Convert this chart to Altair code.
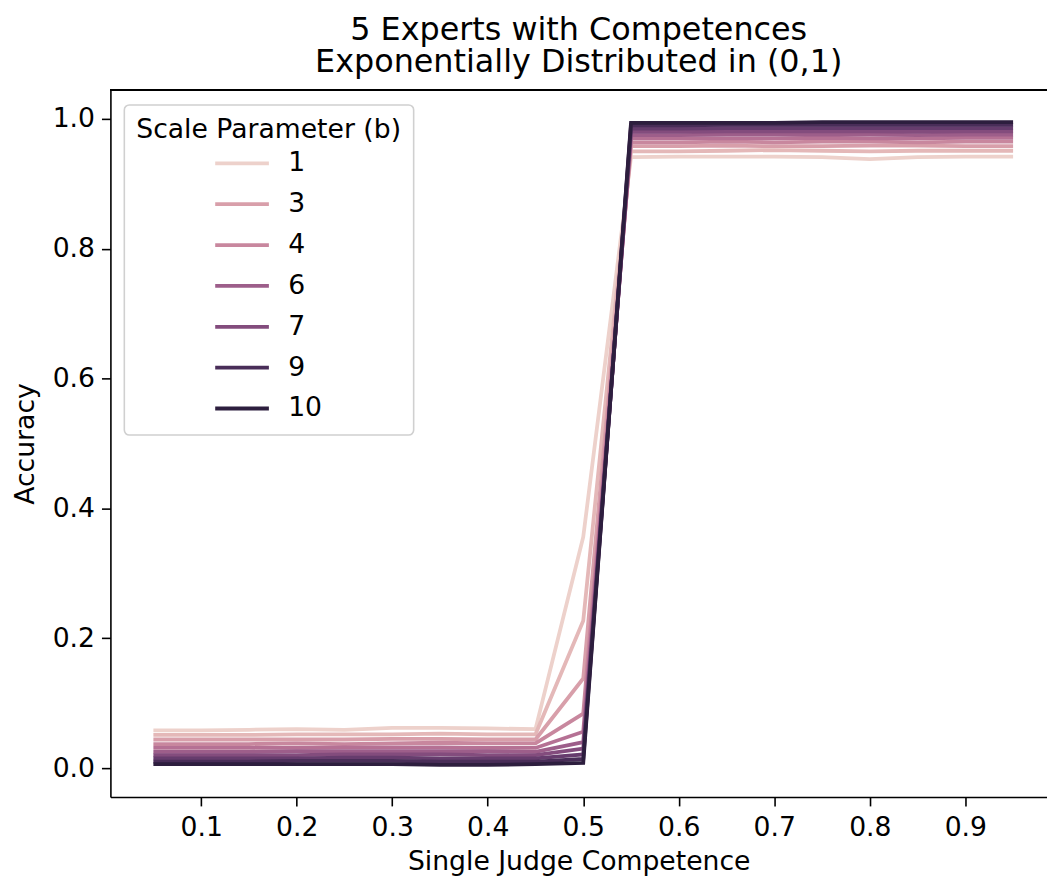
import math
import altair as alt
import pandas as pd

# ---------------- data ----------------
competence = [0.05, 0.10, 0.15, 0.20, 0.25, 0.30, 0.35, 0.40, 0.45, 0.50,
              0.55, 0.60, 0.65, 0.70, 0.75, 0.80, 0.85, 0.90, 0.95]

scale_params = [1, 2, 3, 4, 5, 6, 7, 8, 9, 10]
legend_values = [1, 3, 4, 6, 7, 9, 10]

acc_b1 = [0.058, 0.058, 0.059, 0.060, 0.059, 0.062, 0.062, 0.061, 0.060, 0.356, 0.941, 0.942, 0.942, 0.942, 0.941, 0.938, 0.941, 0.942, 0.942]
acc_b2 = [0.051, 0.051, 0.051, 0.052, 0.052, 0.052, 0.053, 0.052, 0.052, 0.227, 0.950, 0.950, 0.951, 0.952, 0.951, 0.950, 0.951, 0.951, 0.951]
acc_b3 = [0.044, 0.044, 0.044, 0.044, 0.044, 0.045, 0.045, 0.044, 0.044, 0.138, 0.958, 0.958, 0.959, 0.958, 0.958, 0.959, 0.959, 0.958, 0.958]
acc_b4 = [0.037, 0.037, 0.037, 0.038, 0.037, 0.038, 0.039, 0.038, 0.038, 0.084, 0.964, 0.964, 0.965, 0.964, 0.965, 0.965, 0.964, 0.965, 0.965]
acc_b5 = [0.031, 0.031, 0.031, 0.031, 0.032, 0.032, 0.032, 0.031, 0.031, 0.056, 0.970, 0.970, 0.970, 0.970, 0.971, 0.970, 0.970, 0.971, 0.971]
acc_b6 = [0.025, 0.025, 0.025, 0.026, 0.026, 0.026, 0.026, 0.026, 0.025, 0.040, 0.975, 0.975, 0.976, 0.976, 0.976, 0.976, 0.975, 0.976, 0.976]
acc_b7 = [0.020, 0.020, 0.020, 0.020, 0.021, 0.021, 0.021, 0.020, 0.020, 0.030, 0.980, 0.980, 0.981, 0.981, 0.981, 0.981, 0.980, 0.981, 0.981]
acc_b8 = [0.015, 0.015, 0.015, 0.015, 0.016, 0.016, 0.015, 0.015, 0.015, 0.021, 0.985, 0.985, 0.986, 0.986, 0.986, 0.986, 0.986, 0.986, 0.986]
acc_b9 = [0.010, 0.010, 0.010, 0.011, 0.011, 0.011, 0.010, 0.010, 0.010, 0.014, 0.990, 0.990, 0.991, 0.991, 0.991, 0.991, 0.991, 0.991, 0.991]
acc_b10 = [0.006, 0.006, 0.006, 0.006, 0.006, 0.006, 0.005, 0.005, 0.006, 0.008, 0.994, 0.994, 0.994, 0.994, 0.995, 0.995, 0.995, 0.995, 0.995]

series = [acc_b1, acc_b2, acc_b3, acc_b4, acc_b5, acc_b6, acc_b7, acc_b8, acc_b9, acc_b10]

x_ticks = [0.1, 0.2, 0.3, 0.4, 0.5, 0.6, 0.7, 0.8, 0.9]
y_ticks = [0.0, 0.2, 0.4, 0.6, 0.8, 1.0]

rows = []
for b, vals in zip(scale_params, series):
    for c, a in zip(competence, vals):
        rows.append({"competence": c, "accuracy": a, "b": b})
df = pd.DataFrame(rows)


# seaborn default sequential (cubehelix) palette for a numeric hue
def cubehelix_hex(t, light=0.85, dark=0.15, start=0.0, rot=0.4, gamma=1.0, hue=0.8):
    x = light + (dark - light) * t
    xg = x ** gamma
    a = hue * xg * (1 - xg) / 2
    phi = 2 * math.pi * (start / 3 + rot * x)
    r = xg + a * (-0.14861 * math.cos(phi) + 1.78277 * math.sin(phi))
    g = xg + a * (-0.29227 * math.cos(phi) - 0.90649 * math.sin(phi))
    bl = xg + a * (1.97294 * math.cos(phi))
    comp = [min(1, max(0, v)) for v in (r, g, bl)]
    return "#" + "".join(f"{round(v * 255):02x}" for v in comp)


bmin, bmax = min(scale_params), max(scale_params)
colors = [cubehelix_hex((b - bmin) / (bmax - bmin)) for b in scale_params]

FONT = "DejaVu Sans"
FS = 26.8
W, H = 942, 711

lines = alt.Chart(df).mark_line(strokeWidth=3.8).encode(
    x=alt.X(
        "competence:Q",
        scale=alt.Scale(domain=[0.005, 0.9855], nice=False, zero=False),
        axis=alt.Axis(
            values=x_ticks, format=".1f", title="Single Judge Competence",
            titleY=72.5, titleBaseline="alphabetic", labelPadding=9,
        ),
    ),
    y=alt.Y(
        "accuracy:Q",
        scale=alt.Scale(domain=[-0.0445, 1.0445], nice=False, zero=False),
        axis=alt.Axis(
            values=y_ticks, format=".1f", title="Accuracy",
            titleX=-77, titleBaseline="alphabetic", labelPadding=7,
        ),
    ),
    color=alt.Color(
        "b:O",
        scale=alt.Scale(domain=scale_params, range=colors),
        legend=alt.Legend(
            title="Scale Parameter (b)",
            values=legend_values,
            orient="none",
            legendX=14,
            legendY=15,
            symbolType="M-2.7,0H2.7",
            symbolSize=400,
            symbolStrokeWidth=3.8,
            symbolOffset=93,
            labelOffset=33,
            padding=12,
            rowPadding=13.1,
            titlePadding=6.5,
            titleAnchor="start",
            titleLimit=0,
            labelLimit=0,
            strokeColor="#d0d0d0",
            fillColor="white",
            cornerRadius=5,
        ),
    ),
    order=alt.Order("competence:Q"),
)

top_spine = alt.Chart(df).mark_rule(color="black", strokeWidth=1.6).encode(
    x=alt.value(0), x2=alt.value(W), y=alt.value(0)
)

chart = alt.layer(lines, top_spine).properties(
    width=W,
    height=H,
    title=alt.TitleParams(
        text=["5 Experts with Competences", "Exponentially Distributed in (0,1)"],
        fontSize=32,
        font=FONT,
        fontWeight="normal",
        color="black",
        lineHeight=33,
        anchor="middle",
        baseline="bottom",
        offset=-12,
        dy=10,
    ),
    autosize=alt.AutoSizeParams(type="none"),
    padding={"left": 103, "top": 80, "right": 0, "bottom": 81},
).configure_view(
    stroke=None
).configure_axis(
    labelFont=FONT,
    titleFont=FONT,
    labelFontSize=FS,
    titleFontSize=FS,
    titleFontWeight="normal",
    labelColor="black",
    titleColor="black",
    domainColor="black",
    domainWidth=1.6,
    tickColor="black",
    tickWidth=1.6,
    tickSize=9,
    grid=False,
).configure_legend(
    labelFont=FONT,
    titleFont=FONT,
    labelFontSize=FS,
    titleFontSize=FS,
    titleFontWeight="normal",
    labelColor="black",
    titleColor="black",
    strokeWidth=1.6,
)

chart.save("out.html", embed_options={"renderer": "svg", "actions": False})
